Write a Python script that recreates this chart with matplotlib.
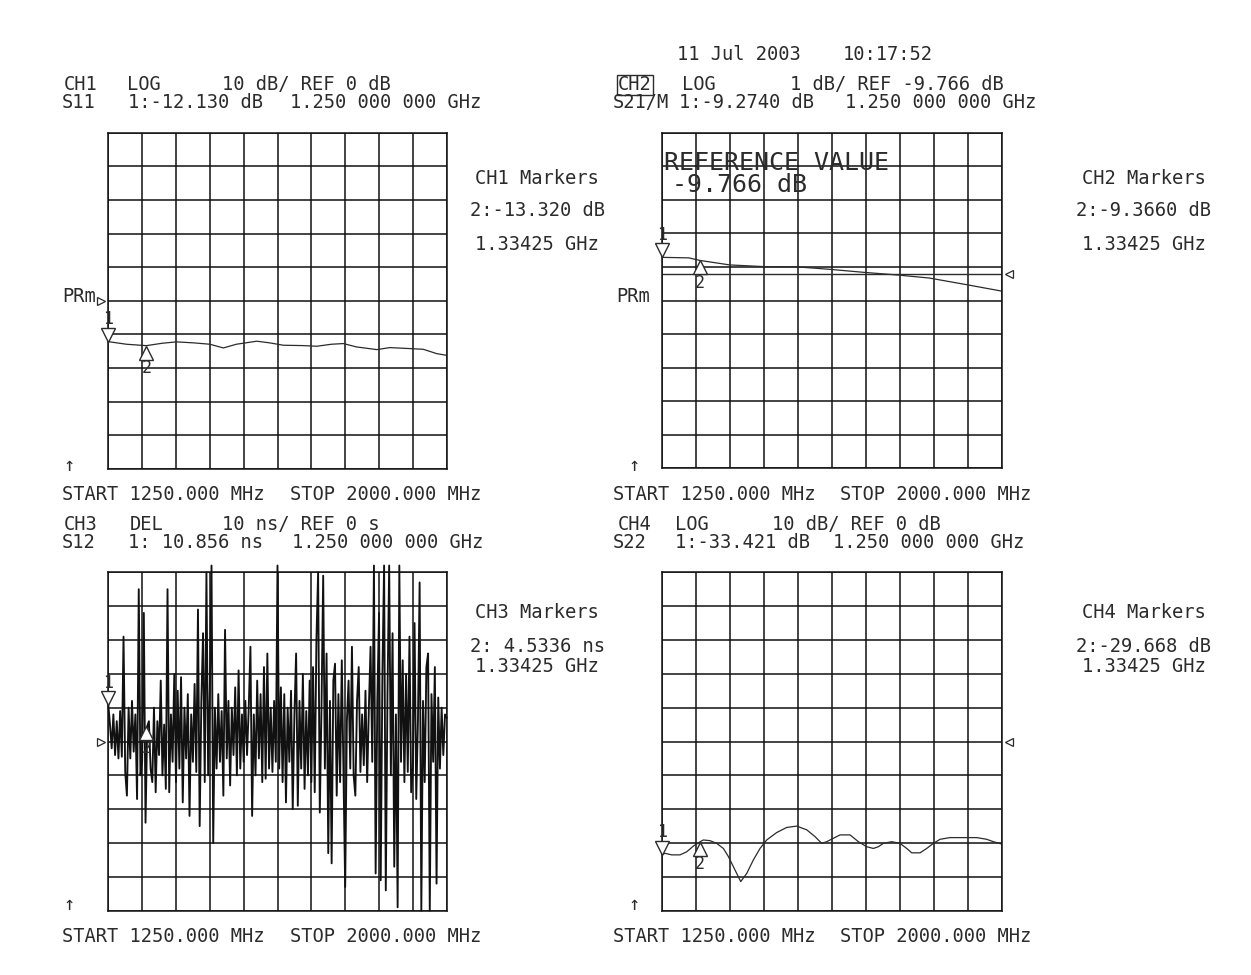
"""Four-channel network analyzer plot (HP 8720 style hardcopy)."""

import matplotlib

matplotlib.use("Agg")

import matplotlib.pyplot as plt
import numpy as np
from matplotlib.transforms import blended_transform_factory, offset_copy

W, H = 1251, 975
FREQ_START, FREQ_STOP = 1250.0, 2000.0
MARKER_FREQS = [1250.0, 1334.25]

# CH1  S11  LOG 10 dB/div, REF 0 dB
ch1_freq = [1250, 1290, 1334.25, 1370, 1401, 1440, 1475, 1505, 1534, 1579, 1608, 1638,
            1680, 1712, 1745, 1771, 1800, 1845, 1874, 1919, 1948, 1978, 2000]
ch1_db = [-12.13, -12.9, -13.32, -12.6, -12.2, -12.5, -12.9, -14.0, -12.9, -12.0, -12.5, -13.2,
          -13.3, -13.5, -12.9, -12.7, -13.7, -14.5, -13.9, -14.2, -14.4, -15.7, -16.2]
ch1_markers = [-12.130, -13.320]

# CH2  S21/M  LOG 1 dB/div, REF -9.766 dB
ch2_freq = [1250, 1310, 1334.25, 1400, 1475, 1550, 1620, 1695, 1770, 1840, 1915, 2000]
ch2_db = [-9.274, -9.29, -9.366, -9.50, -9.55, -9.56, -9.63, -9.72, -9.80, -9.89, -10.07, -10.28]
ch2_markers = [-9.2740, -9.3660]
ch2_ref = -9.766
ch2_top = -5.56

# CH3  S12  DELAY 10 ns/div, REF 0 s  (201 point sweep)
ch3_ns = [
    10.9, 5, -2, 8, -4, 6, -5, 9, -4.5, 31, -9, -16, 10, -5, 12, -3, 8, -17, 45, -10,
    -6, 38, -24, 4.5, 6, -8, -12, 10, -15, 6, -4, 18, -10, 5, -14, 45, -15, 8, -6, 20,
    -12, 15, -8, 19, -18, 10, -5, 14, -22, 8, -6, 17, -9, 39, -25, 12, 32, -12, 50, -10,
    15, 52, -30, 10, -8, 14, -6, 9, -16, 33, -5, 12, -13, 10, -4, 16, -10, 21, -8, 8,
    -6, 12, -4, 10, 28, -22, 8, -10, 18, -5, 14, -12, 22, -11, 26, -8, 10, -9, 12, -6,
    52, -8, 16, -12, 14, -18, 10, -6, 15, -20, 8, 26, -19, 12, -8, 20, -14, 9, -10, 18,
    -12, 22, -15, 30, 50, -21, 10, 49, -8, 26, -33, 12, -36, 18, 23, -16, 14, -12, 24, -10,
    -43, 6, 18, -8, 28, -10, -16, 12, 22, -9, 8, -7, 15, -12, 10, 28, -6, 52, -39, 12,
    38, -41, 20, 52, -44, 14, 52, -10, 32, -37, 8, -49, 52, -6, 24, -12, 20, -9, 31, -15,
    -8, 35, -17, 6, 47, -50, 12, -12, 22, 26, -50, 14, -6, 22, -42, 13, -8, 10, -4, 8, 7,
]
ch3_freq = np.linspace(FREQ_START, FREQ_STOP, len(ch3_ns))
ch3_markers = [10.856, 4.5336]

# CH4  S22  LOG 10 dB/div, REF 0 dB
ch4_freq = [1250, 1257.4, 1272.1, 1290.4, 1305.1, 1319.9, 1334.25, 1341.9, 1356.6, 1371.3,
            1386.0, 1397.1, 1411.8, 1424.3, 1437.5, 1452.2, 1466.9, 1481.6, 1503.7, 1525.7,
            1547.8, 1569.9, 1588.2, 1602.9, 1614.0, 1628.7, 1643.4, 1665.4, 1683.8, 1702.2,
            1716.9, 1727.9, 1738.9, 1757.4, 1775.7, 1790.4, 1801.5, 1819.9, 1834.6, 1849.3,
            1864.0, 1886.0, 1915.4, 1944.9, 1966.9, 1981.6, 2000]
ch4_db = [-33.42, -33.05, -33.5, -33.5, -32.6, -30.9, -29.67, -29.1, -29.3, -30.1,
          -31.6, -34.0, -38.0, -41.4, -39.0, -35.0, -31.6, -29.1, -26.9, -25.4,
          -25.0, -26.1, -28.1, -30.1, -29.6, -28.6, -27.6, -27.6, -29.6, -31.1,
          -31.6, -31.1, -30.1, -29.6, -30.1, -31.6, -32.9, -32.9, -31.6, -30.1,
          -28.9, -28.4, -28.4, -28.4, -28.9, -29.6, -30.3]
ch4_markers = [-33.421, -29.668]

INK = "#2b2b2b"
MONO = "DejaVu Sans Mono"
FS = 13.5

fig = plt.figure(figsize=(W / 100, H / 100), dpi=100)
fig.patch.set_facecolor("white")


def put(x, y, s, size=FS, ha="left", **kw):
    fig.text(x / W, 1 - y / H, s, ha=ha, va="center", fontsize=size,
             family=MONO, color=INK, **kw)


def panel(left, top, right, bottom, ylim):
    ax = fig.add_axes([left / W, 1 - bottom / H, (right - left) / W, (bottom - top) / H])
    ax.set_xlim(FREQ_START, FREQ_STOP)
    ax.set_ylim(*ylim)
    ax.set_xticks(np.linspace(FREQ_START, FREQ_STOP, 11))
    ax.set_yticks(np.linspace(ylim[0], ylim[1], 11))
    ax.tick_params(length=0, labelbottom=False, labelleft=False)
    ax.grid(True, color="#111111", linewidth=1.1)
    for spine in ax.spines.values():
        spine.set_linewidth(1.1)
        spine.set_color("#111111")
    return ax


def draw_markers(ax, values):
    up = offset_copy(ax.transData, fig=fig, x=0, y=5, units="points")
    up_lbl = offset_copy(ax.transData, fig=fig, x=0, y=16, units="points")
    dn = offset_copy(ax.transData, fig=fig, x=0, y=-5, units="points")
    dn_lbl = offset_copy(ax.transData, fig=fig, x=0, y=-16, units="points")
    ax.plot(MARKER_FREQS[0], values[0], marker="v", ms=10, mfc="white", mec=INK,
            mew=1.0, transform=up, clip_on=False, zorder=5)
    ax.text(MARKER_FREQS[0], values[0], "1", transform=up_lbl, ha="center", va="center",
            fontsize=12, family=MONO, color=INK, zorder=5)
    ax.plot(MARKER_FREQS[1], values[1], marker="^", ms=10, mfc="white", mec=INK,
            mew=1.0, transform=dn, clip_on=False, zorder=5)
    ax.text(MARKER_FREQS[1], values[1], "2", transform=dn_lbl, ha="center", va="center",
            fontsize=12, family=MONO, color=INK, zorder=5)


def ref_arrow(ax, value, side):
    tr = blended_transform_factory(ax.transAxes, ax.transData)
    if side == "left":
        ax.plot([-0.022], [value], marker=">", ms=6, mfc="white", mec=INK, mew=0.9,
                transform=tr, clip_on=False)
    else:
        ax.plot([1.022], [value], marker="<", ms=6, mfc="white", mec=INK, mew=0.9,
                transform=tr, clip_on=False)


# ---- CH1 ----
ax1 = panel(108.3, 132.7, 446.7, 469.0, (-50, 50))
ax1.plot(ch1_freq, ch1_db, color=INK, lw=0.9)
draw_markers(ax1, ch1_markers)
ref_arrow(ax1, 0, "left")
put(64, 85, "CH1")
put(127, 85, "LOG")
put(222, 85, "10 dB/ REF 0 dB")
put(62, 103, "S11")
put(128, 103, "1:-12.130 dB")
put(290, 103, "1.250 000 000 GHz")
put(62, 296, "PRm")
put(63, 465, "↑")
put(62, 494, "START 1250.000 MHz")
put(290, 494, "STOP 2000.000 MHz")
put(537, 178, "CH1 Markers", ha="center")
put(537, 211, "2:-13.320 dB", ha="center")
put(537, 244, "1.33425 GHz", ha="center")

# ---- CH2 ----
ax2 = panel(661.7, 132.7, 1001.7, 468.3, (ch2_top - 10, ch2_top))
ax2.axhline(ch2_ref, color=INK, lw=1.0)
ax2.plot(ch2_freq, ch2_db, color=INK, lw=0.9)
draw_markers(ax2, ch2_markers)
ref_arrow(ax2, ch2_ref, "right")
ax2.text(0.008, 0.91, "REFERENCE VALUE", transform=ax2.transAxes, ha="left", va="center",
         fontsize=18, family=MONO, color=INK)
ax2.text(0.03, 0.845, "-9.766 dB", transform=ax2.transAxes, ha="left", va="center",
         fontsize=18, family=MONO, color=INK)
put(677, 55, "11 Jul 2003")
put(843, 55, "10:17:52")
put(618, 85, "CH2", bbox=dict(boxstyle="square,pad=0.05", fc="none", ec=INK, lw=1.0))
put(682, 85, "LOG")
put(790, 85, "1 dB/ REF -9.766 dB")
put(613, 103, "S21/M")
put(679, 103, "1:-9.2740 dB")
put(845, 103, "1.250 000 000 GHz")
put(616, 296, "PRm")
put(628, 465, "↑")
put(613, 494, "START 1250.000 MHz")
put(840, 494, "STOP 2000.000 MHz")
put(1144, 178, "CH2 Markers", ha="center")
put(1144, 211, "2:-9.3660 dB", ha="center")
put(1144, 244, "1.33425 GHz", ha="center")

# ---- CH3 ----
ax3 = panel(108.3, 572.3, 446.7, 910.7, (-50, 50))
ax3.plot(ch3_freq, ch3_ns, color="#111111", lw=1.35, clip_on=False)
draw_markers(ax3, ch3_markers)
ref_arrow(ax3, 0, "left")
put(64, 525, "CH3")
put(130, 525, "DEL")
put(222, 525, "10 ns/ REF 0 s")
put(62, 543, "S12")
put(128, 543, "1: 10.856 ns")
put(292, 543, "1.250 000 000 GHz")
put(63, 905, "↑")
put(62, 936, "START 1250.000 MHz")
put(290, 936, "STOP 2000.000 MHz")
put(537, 613, "CH3 Markers", ha="center")
put(537, 647, "2: 4.5336 ns", ha="center")
put(537, 666, "1.33425 GHz", ha="center")

# ---- CH4 ----
ax4 = panel(661.7, 572.3, 1001.7, 910.7, (-50, 50))
ax4.plot(ch4_freq, ch4_db, color=INK, lw=0.9)
draw_markers(ax4, ch4_markers)
ref_arrow(ax4, 0, "right")
put(618, 525, "CH4")
put(675, 525, "LOG")
put(772, 525, "10 dB/ REF 0 dB")
put(613, 543, "S22")
put(675, 543, "1:-33.421 dB")
put(833, 543, "1.250 000 000 GHz")
put(628, 905, "↑")
put(613, 936, "START 1250.000 MHz")
put(840, 936, "STOP 2000.000 MHz")
put(1144, 613, "CH4 Markers", ha="center")
put(1144, 647, "2:-29.668 dB", ha="center")
put(1144, 666, "1.33425 GHz", ha="center")

fig.savefig("out.png", dpi=100, facecolor="white")
